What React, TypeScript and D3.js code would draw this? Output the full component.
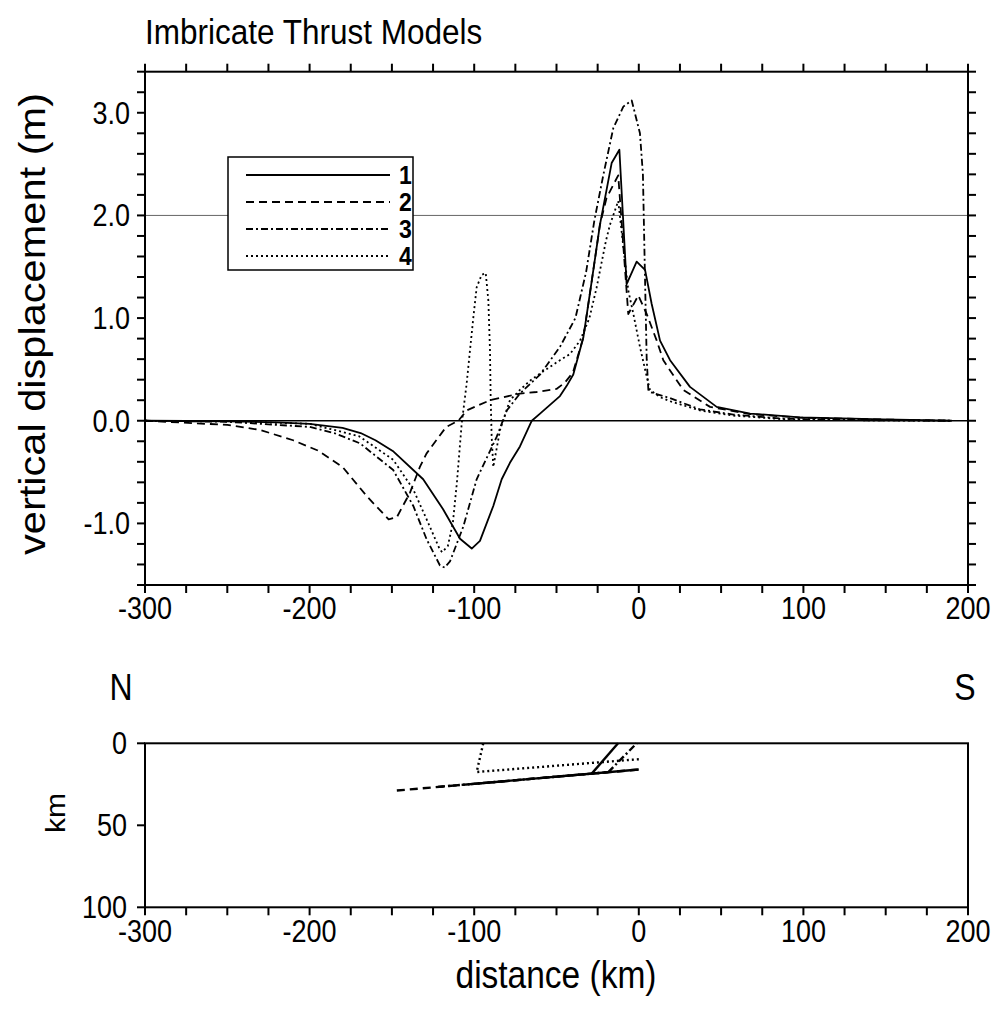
import React from 'react';
import * as d3 from 'd3';

// ---- Data: vertical displacement (m) vs distance (km) ----
const model1X = [-300, -250, -220, -200, -180, -169, -160, -149, -131, -119, -108.6, -101.5, -96.5, -88.4, -83.3, -78.3, -72.2, -65, -60, -47.9, -43.8, -39.8, -33.7, -28.6, -23.6, -16.5, -11.8, -7.4, -1.3, 3.8, 7.8, 12.9, 19, 31.1, 47.3, 67.6, 97.9, 148.5, 190];
const model1Y = [0, -0.005, -0.015, -0.03, -0.07, -0.12, -0.19, -0.30, -0.57, -0.86, -1.15, -1.245, -1.17, -0.83, -0.57, -0.41, -0.25, 0, 0.07, 0.24, 0.34, 0.45, 0.81, 1.36, 1.91, 2.51, 2.64, 1.33, 1.55, 1.47, 1.14, 0.78, 0.59, 0.33, 0.135, 0.07, 0.033, 0.013, 0];

const model2X = [-300, -250, -230, -210, -195, -180, -165, -152, -147, -139, -133, -129, -117, -109.6, -104.6, -90.4, -72.2, -62, -50, -45, -40, -33.7, -28.6, -23.6, -19.6, -12.5, -6.4, -0.3, 4.8, 10.9, 14.9, 19, 27, 43.3, 67.6, 97.9, 148.5, 190];
const model2Y = [0, -0.04, -0.09, -0.19, -0.29, -0.45, -0.74, -0.96, -0.94, -0.70, -0.45, -0.32, -0.06, 0, 0.10, 0.20, 0.265, 0.28, 0.31, 0.37, 0.47, 0.81, 1.36, 1.91, 2.17, 2.39, 1.04, 1.22, 1.04, 0.78, 0.59, 0.49, 0.30, 0.135, 0.065, 0.03, 0.012, 0];

const model3X = [-300, -250, -200, -185, -169.4, -149.2, -137, -128.9, -120.8, -118, -114.7, -106.6, -98.5, -86.3, -80.2, -72.2, -60, -47.9, -38.5, -32, -27, -21.6, -15.5, -9.4, -4.3, 0.7, 2.5, 3.5, 4.8, 5.8, 6.8, 19, 37.2, 57.4, 87.8, 140, 190];
const model3Y = [0, -0.01, -0.06, -0.12, -0.22, -0.48, -0.83, -1.155, -1.41, -1.43, -1.37, -1.03, -0.57, -0.155, 0.10, 0.265, 0.45, 0.72, 1.0, 1.45, 1.95, 2.39, 2.85, 3.06, 3.12, 2.8, 2.4, 1.6, 0.6, 0.3, 0.28, 0.22, 0.11, 0.06, 0.02, 0.005, 0];

const model4X = [-300, -250, -200, -170, -149.2, -137, -128.9, -121, -119.5, -116, -113, -110.5, -107.6, -104.6, -102.6, -100.5, -98.5, -95.5, -93, -91.4, -90.4, -90, -89.4, -88.4, -84.3, -78.3, -72.2, -66.1, -60, -47.9, -41.8, -35.7, -30, -25.6, -20, -17.5, -12.5, -6.4, -3.3, 0.7, 4.8, 6.8, 12.9, 19, 37.2, 57.4, 87.8, 140, 190];
const model4Y = [0, -0.005, -0.03, -0.15, -0.38, -0.67, -0.96, -1.25, -1.28, -1.22, -1.0, -0.6, -0.03, 0.36, 0.68, 1.01, 1.30, 1.42, 1.44, 1.17, 0.68, 0.23, -0.155, -0.45, -0.09, 0.2, 0.30, 0.39, 0.46, 0.59, 0.65, 0.78, 1.0, 1.3, 1.75, 1.91, 2.14, 1.27, 1.04, 0.72, 0.43, 0.30, 0.23, 0.19, 0.10, 0.05, 0.015, 0.004, 0];

const modelLabels = ['1', '2', '3', '4'];

// ---- Fault geometry (distance km, depth km) ----
const fault2Flat = [[-147, 28.8], [0, 16]];
const fault1Flat = [[-102, 24.9], [0, 16]];
const fault1Ramp = [[-28.6, 18.5], [-12.6, 0]];
const fault3Flat = [[-122, 26.6], [-18.5, 17.6]];
const fault3Ramp = [[-18.5, 17.6], [-1.3, 0]];
const fault4 = [[0, 9.7], [-98.5, 17.5], [-94.5, 0]];

const xTickValues = d3.range(-300, 201, 25);
const xLabelValues = [-300, -200, -100, 0, 100, 200];
const yTickValues = d3.range(-8, 18).map((i) => i * 0.2);
const yLabelValues = [-1, 0, 1, 2, 3];
const depthLabelValues = [0, 50, 100];

const FONT = '"Liberation Sans", Arial, Helvetica, sans-serif';
const dashes = ['none', '8,5', '7,3,2,3', '2,3'];
const STRETCH = 1.14;

function SText(props: { x: number; y: number; size: number; anchor?: string; weight?: string; children: React.ReactNode }) {
  const { x, y, size, anchor, weight, children } = props;
  return (
    <text transform={`translate(${x},${y}) scale(1,${STRETCH})`} textAnchor={anchor || 'start'}
      fontFamily={FONT} fontSize={size} fontWeight={weight || 'normal'} fill="#000">{children}</text>
  );
}

export default function App() {
  const L = 145, R = 968;
  const x = d3.scaleLinear().domain([-300, 200]).range([L, R]);
  const y = d3.scaleLinear().domain([-1.6, 3.4]).range([585, 71.7]);
  const yd = d3.scaleLinear().domain([0, 100]).range([743.3, 907.3]);

  const line = d3.line<[number, number]>().x((d) => x(d[0])).y((d) => y(d[1]));
  const fline = d3.line<number[]>().x((d) => x(d[0])).y((d) => yd(d[1]));

  const series = [
    { xs: model1X, ys: model1Y },
    { xs: model2X, ys: model2Y },
    { xs: model3X, ys: model3Y },
    { xs: model4X, ys: model4Y },
  ];

  const faults = [
    { pts: fault2Flat, dash: dashes[1] },
    { pts: fault3Flat, dash: dashes[2] },
    { pts: fault3Ramp, dash: dashes[2] },
    { pts: fault4, dash: dashes[3] },
    { pts: fault1Flat, dash: dashes[0] },
    { pts: fault1Ramp, dash: dashes[0] },
  ];

  const yTop = 71.7, yBot = 585;
  const legendLineYs = [175, 202, 229, 256];

  return (
    <svg width={994} height={1009} style={{ position: 'absolute', left: 0, top: 0, background: '#fff' }}>
      <rect x={0} y={0} width={994} height={1009} fill="#fff" />
      {/* Title */}
      <SText x={145} y={44} size={31.5}>Imbricate Thrust Models</SText>

      {/* reference lines */}
      <line x1={L} x2={R} y1={y(2)} y2={y(2)} stroke="#666" strokeWidth={1} />
      <line x1={L} x2={R} y1={y(0)} y2={y(0)} stroke="#000" strokeWidth={1.5} />

      {/* curves */}
      {series.map((s, i) => (
        <path key={i} d={line(s.xs.map((v, j) => [v, s.ys[j]] as [number, number])) || ''}
          fill="none" stroke="#000" strokeWidth={1.8} strokeDasharray={dashes[i]} strokeLinejoin="round" />
      ))}

      {/* frame */}
      <rect x={L} y={yTop} width={R - L} height={yBot - yTop} fill="none" stroke="#000" strokeWidth={2} />
      {xTickValues.map((v) => (
        <g key={'xt' + v}>
          <line x1={x(v)} x2={x(v)} y1={yTop} y2={yTop - 8} stroke="#000" strokeWidth={2} />
          <line x1={x(v)} x2={x(v)} y1={yBot} y2={yBot + 8} stroke="#000" strokeWidth={2} />
        </g>
      ))}
      {yTickValues.map((v) => (
        <g key={'yt' + v.toFixed(1)}>
          <line x1={L} x2={L - 8} y1={y(v)} y2={y(v)} stroke="#000" strokeWidth={2} />
          <line x1={R} x2={R + 8} y1={y(v)} y2={y(v)} stroke="#000" strokeWidth={2} />
        </g>
      ))}
      {xLabelValues.map((v) => (
        <SText key={'xl' + v} x={x(v)} y={619} size={27} anchor="middle">{String(v)}</SText>
      ))}
      {yLabelValues.map((v) => (
        <SText key={'yl' + v} x={130} y={y(v) + 11} size={27} anchor="end">{v.toFixed(1)}</SText>
      ))}
      <text transform={`translate(45,324) rotate(-90)`} textAnchor="middle" fontFamily={FONT} fontSize={36}
        textLength={462} lengthAdjust="spacingAndGlyphs">vertical displacement (m)</text>

      {/* legend */}
      <rect x={228} y={157} width={185} height={113} fill="#fff" stroke="#000" strokeWidth={1.5} />
      {modelLabels.map((lab, i) => (
        <g key={'lg' + lab}>
          <line x1={246} x2={390} y1={legendLineYs[i]} y2={legendLineYs[i]} stroke="#000" strokeWidth={1.8} strokeDasharray={dashes[i]} />
          <SText x={399} y={legendLineYs[i] + 9} size={23} weight="bold">{lab}</SText>
        </g>
      ))}

      {/* bottom panel */}
      <SText x={121} y={700} size={32} anchor="middle">N</SText>
      <SText x={965} y={700} size={32} anchor="middle">S</SText>
      {faults.map((f, i) => (
        <path key={'f' + i} d={fline(f.pts) || ''} fill="none" stroke="#000" strokeWidth={2.4} strokeDasharray={f.dash} />
      ))}
      <rect x={L} y={yd(0)} width={R - L} height={yd(100) - yd(0)} fill="none" stroke="#000" strokeWidth={2} />
      {depthLabelValues.map((v) => (
        <g key={'dl' + v}>
          <line x1={L} x2={L - 8} y1={yd(v)} y2={yd(v)} stroke="#000" strokeWidth={2} />
          <SText x={127} y={yd(v) + 11} size={27} anchor="end">{String(v)}</SText>
        </g>
      ))}
      {xTickValues.map((v) => (
        <line key={'bxt' + v} x1={x(v)} x2={x(v)} y1={yd(100)} y2={yd(100) + 8} stroke="#000" strokeWidth={2} />
      ))}
      {xLabelValues.map((v) => (
        <SText key={'bxl' + v} x={x(v)} y={942} size={27} anchor="middle">{String(v)}</SText>
      ))}
      <text transform={`translate(65,813) rotate(-90)`} textAnchor="middle" fontFamily={FONT} fontSize={27}
        textLength={40} lengthAdjust="spacingAndGlyphs">km</text>
      <SText x={556} y={988} size={33.5} anchor="middle">distance (km)</SText>
    </svg>
  );
}
